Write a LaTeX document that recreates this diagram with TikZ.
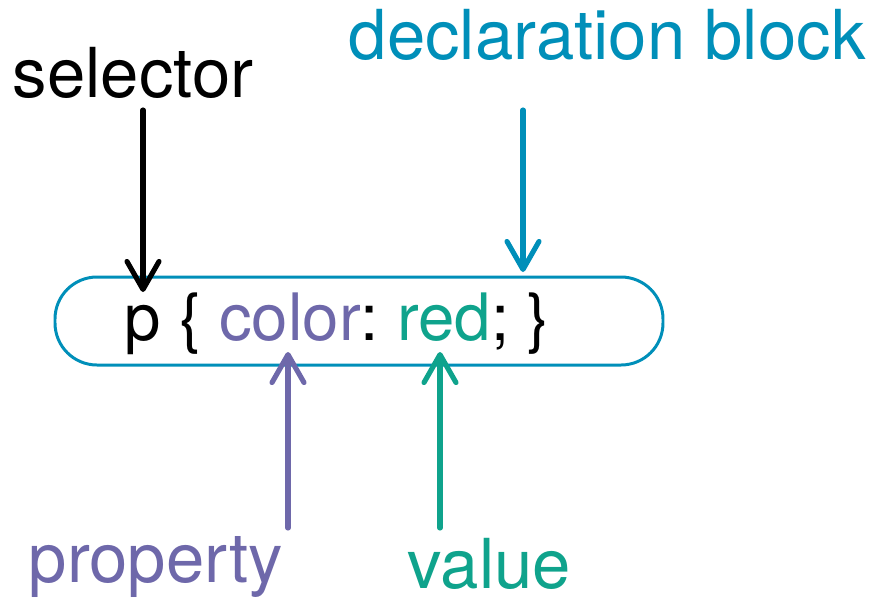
\documentclass[tikz,border=0pt]{standalone}
\usepackage{fontspec}
\setmainfont{TeX Gyre Heros}
\usetikzlibrary{arrows.meta}

\definecolor{blockblue}{RGB}{0,143,185}
\definecolor{propviolet}{RGB}{110,104,170}
\definecolor{valgreen}{RGB}{15,163,140}

\tikzset{
    lbl/.style={anchor=base west, inner sep=0pt, font=\fontsize{19.6}{23}\selectfont},
    pointer/.style={line width=1.45pt, line cap=round,
        -{Straight Barb[length=2.8mm, width=3.2mm, line width=1.45pt, round]}}
}

\begin{document}
\frenchspacing
\begin{tikzpicture}
            \useasboundingbox (0, 0) rectangle (8.77, 5.99);

            \node[draw=blockblue, line width=0.85pt, rounded corners=0.42cm,
                minimum width=6.08cm, minimum height=0.88cm] (block) at (3.59, 2.78) {};
            \node[anchor=base west, inner sep=0pt, font=\fontsize{18.6}{22}\selectfont] (code) at (1.24, 2.59)
                {p \{ \textcolor{propviolet}{color}: \textcolor{valgreen}{red}; \}};

            \node[lbl] (selector) at (0.12, 5.02) {selector};
            \node[lbl, text=blockblue] (declblock) at (3.48, 5.40) {declaration block};
            \node[lbl, text=propviolet] (property) at (0.28, 0.17) {property};
            \node[lbl, text=valgreen] (value) at (4.07, 0.11) {value};

            \coordinate (selTip) at (1.43, 3.07);
            \coordinate (blockTip) at (5.23, 3.27);
            \coordinate (propTip) at (2.88, 2.47);
            \coordinate (valTip) at (4.40, 2.47);

            \draw[pointer] (selector.base -| selTip) ++(0, -0.13) -- (selTip);
            \draw[pointer, blockblue] (declblock.base -| blockTip) ++(0, -0.51) -- (blockTip);
            \draw[pointer, propviolet] (property.base -| propTip) ++(0, 0.54) -- (propTip);
            \draw[pointer, valgreen] (value.base -| valTip) ++(0, 0.60) -- (valTip);
        \end{tikzpicture}
\end{document}
